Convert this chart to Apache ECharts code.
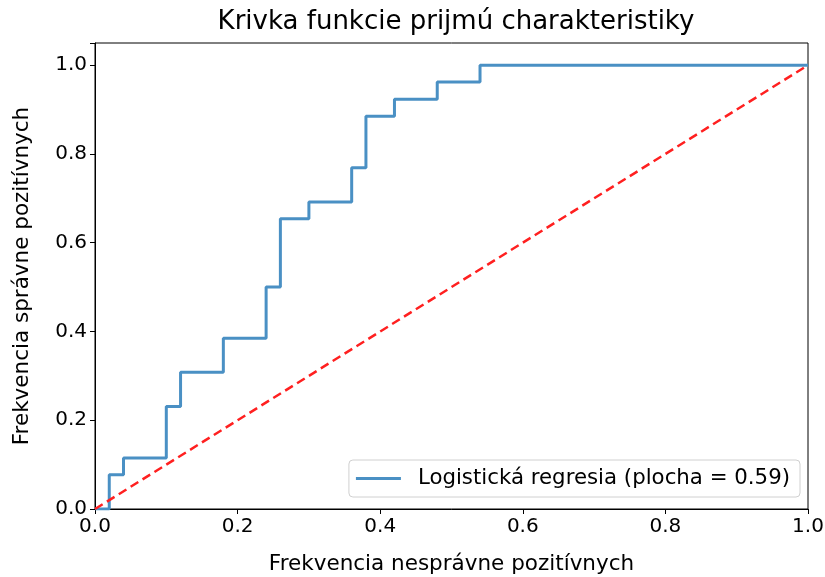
<!DOCTYPE html>
<html>
<head>
<meta charset="utf-8">
<script src="https://cdn.jsdelivr.net/npm/echarts@6/dist/echarts.min.js"></script>
<style>
  html, body { margin: 0; padding: 0; background: #fff; }
  #chart { width: 825px; height: 577px; }
</style>
</head>
<body>
<div id="chart"></div>
<script>
// ROC krivka - hodnoty odčítané z obrázka
var fpr = [0, 0.02, 0.02, 0.04, 0.04, 0.10, 0.10, 0.12, 0.12, 0.18, 0.18, 0.24, 0.24, 0.26, 0.26, 0.30, 0.30, 0.36, 0.36, 0.38, 0.38, 0.42, 0.42, 0.48, 0.48, 0.54, 0.54, 1.0];
var tpr = [0, 0, 0.077, 0.077, 0.115, 0.115, 0.231, 0.231, 0.308, 0.308, 0.385, 0.385, 0.5, 0.5, 0.654, 0.654, 0.692, 0.692, 0.769, 0.769, 0.885, 0.885, 0.923, 0.923, 0.962, 0.962, 1.0, 1.0];
var diagX = [0, 1];
var diagY = [0, 1];
var tickLabels = ['0.0', '0.2', '0.4', '0.6', '0.8', '1.0'];

var chart = echarts.init(document.getElementById('chart'));

var font = 'DejaVu Sans';

function tickFmt(v) {
    var i = Math.round(v / 0.2);
    if (Math.abs(v - i * 0.2) > 1e-6) return '';
    return tickLabels[i] || '';
}

var option = {
    animation: false,
    title: {
        text: 'Krivka funkcie prijmú charakteristiky',
        left: 451, top: 4, textAlign: 'center',
        textStyle: { fontFamily: font, fontSize: 26, fontWeight: 'normal', color: '#000' }
    },
    legend: {
        data: ['Logistická regresia (plocha = 0.59)'],
        right: 25, top: 460,
        orient: 'vertical',
        itemWidth: 45, itemHeight: 3, itemGap: 0,
        padding: [8, 10, 8, 7],
        borderColor: '#d0d0d0', borderWidth: 1, borderRadius: 4,
        backgroundColor: 'rgba(255,255,255,0.8)',
        textStyle: { fontFamily: font, fontSize: 21.3, color: '#000', padding: [0, 0, 0, 12] },
        icon: 'rect'
    },
    grid: {
        left: 95, right: 17, top: 43, bottom: 68,
        outerBoundsMode: 'none',
        containLabel: false,
        show: true, borderColor: '#000', borderWidth: 1, backgroundColor: '#fff'
    },
    xAxis: {
        type: 'value', min: 0, max: 1, interval: 0.2,
        name: 'Frekvencia nesprávne pozitívnych',
        nameLocation: 'middle', nameGap: 44,
        nameTextStyle: { fontFamily: font, fontSize: 21.5, color: '#000' },
        axisLine: { show: true, lineStyle: { color: '#000', width: 1 } },
        axisTick: { show: true, length: 5, inside: false, lineStyle: { color: '#000' } },
        axisLabel: { fontFamily: font, fontSize: 20, color: '#000', margin: 8, formatter: tickFmt },
        splitLine: { show: false }
    },
    yAxis: {
        type: 'value', min: 0, max: 1.05, interval: 0.2,
        name: 'Frekvencia správne pozitívnych',
        nameLocation: 'middle', nameGap: 62,
        nameTextStyle: { fontFamily: font, fontSize: 21.5, color: '#000' },
        axisLine: { show: true, lineStyle: { color: '#000', width: 1 } },
        axisTick: { show: true, length: 5, inside: false, lineStyle: { color: '#000' } },
        axisLabel: { fontFamily: font, fontSize: 20, color: '#000', margin: 8, formatter: tickFmt },
        splitLine: { show: false }
    },
    series: [{
        name: 'Logistická regresia (plocha = 0.59)',
        type: 'line',
        data: fpr.map(function (x, i) { return [x, tpr[i]]; }),
        showSymbol: false, symbol: 'none',
        lineStyle: { color: '#4a90c4', width: 3 },
        itemStyle: { color: '#4a90c4' },
        z: 3
    }, {
        name: 'diag',
        type: 'line',
        data: diagX.map(function (x, i) { return [x, diagY[i]]; }),
        showSymbol: false, symbol: 'none',
        lineStyle: { color: '#ff2020', width: 2.5, type: [9, 5] },
        z: 4
    }]
};

chart.setOption(option);
</script>
</body>
</html>
